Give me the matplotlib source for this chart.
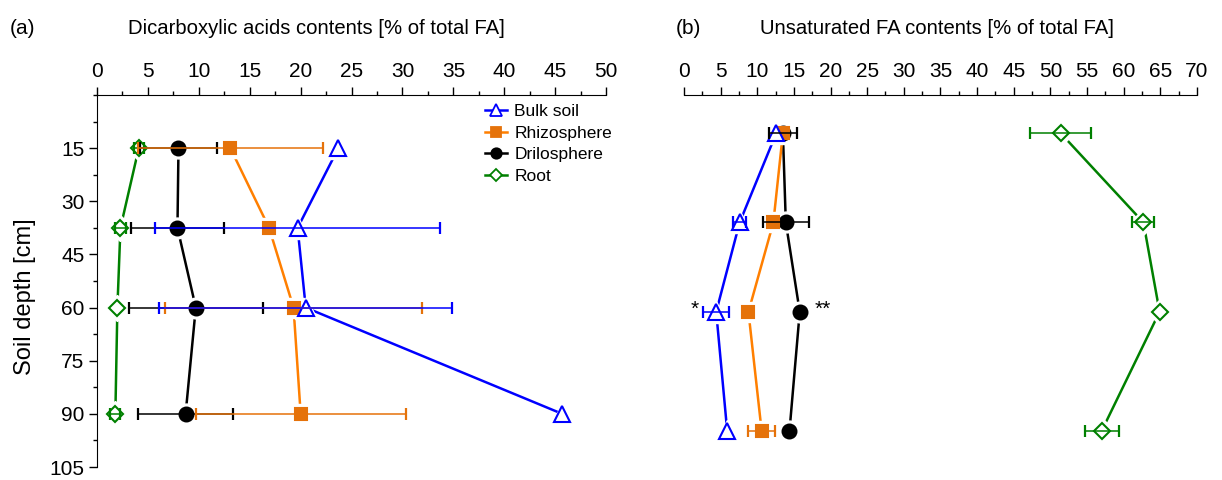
import numpy as np
import matplotlib.pyplot as plt
from matplotlib.lines import Line2D
from matplotlib.ticker import MultipleLocator

plt.rcParams['font.family'] = ['Liberation Sans', 'DejaVu Sans']

depth = [15, 37.5, 60, 90]
names = ['Bulk soil', 'Rhizosphere', 'Drilosphere', 'Root']

# (a) dicarboxylic acids, % of total FA
dca_bulk = [23.7, 19.7, 20.5, 45.7]
dca_bulk_err = [np.nan, 14.0, 14.4, np.nan]
dca_rhizo = [13.1, 16.9, 19.3, 20.0]
dca_rhizo_err = [9.1, np.nan, 12.6, 10.3]
dca_drilo = [8.0, 7.9, 9.7, 8.7]
dca_drilo_err = [3.8, 4.6, 6.6, 4.7]
dca_root = [4.1, 2.3, 2.0, 1.8]
dca_root_err = [0.5, 0.5, np.nan, 0.5]

# (b) unsaturated FA, % of total FA
ufa_bulk = [12.6, 7.6, 4.4, 5.9]
ufa_bulk_err = [np.nan, 0.9, 1.8, np.nan]
ufa_rhizo = [13.5, 12.2, 8.8, 10.6]
ufa_rhizo_err = [np.nan, np.nan, np.nan, 1.8]
ufa_drilo = [13.5, 13.9, 15.8, 14.4]
ufa_drilo_err = [1.9, 3.1, np.nan, np.nan]
ufa_root = [51.4, 62.7, 64.9, 57.0]
ufa_root_err = [4.2, 1.5, np.nan, 2.3]

styles = {
    'Bulk soil':   dict(color='#0000FF', marker='^', mfc='white', mec='#0000FF', ms=11),
    'Rhizosphere': dict(color='#FF7F00', marker='s', mfc='#E5720A', mec='#E5720A', ms=9),
    'Drilosphere': dict(color='black', marker='o', mfc='black', mec='black', ms=10),
    'Root':        dict(color='#008000', marker='D', mfc='white', mec='#008000', ms=8),
}


def draw_series(ax, x, xerr, name):
    st = styles[name]
    ax.plot(x, depth, color=st['color'], lw=1.8, zorder=2, solid_capstyle='butt')
    # white halo so the line stops short of the marker
    ax.plot(x, depth, ls='none', marker=st['marker'], ms=st['ms'] + 5,
            mfc='white', mec='white', zorder=3)
    ax.plot(x, depth, ls='none', marker=st['marker'], ms=st['ms'],
            mfc=st['mfc'], mec=st['mec'], mew=1.5, zorder=4)
    ax.errorbar(x, depth, xerr=xerr, fmt='none', ecolor=st['mec'],
                elinewidth=1.1, capsize=4, capthick=1.6, zorder=5)


def style_axis(ax, xmax, show_y):
    ax.xaxis.tick_top()
    ax.set_xlim(0, xmax)
    ax.xaxis.set_major_locator(MultipleLocator(5))
    ax.xaxis.set_minor_locator(MultipleLocator(2.5))
    ax.tick_params(axis='x', which='major', direction='out', length=6, width=1,
                   labelsize=15, pad=4)
    ax.tick_params(axis='x', which='minor', direction='out', length=3, width=1)
    ax.spines['right'].set_visible(False)
    ax.spines['bottom'].set_visible(False)
    if show_y:
        ax.set_yticks([15, 30, 45, 60, 75, 90, 105])
        ax.yaxis.set_minor_locator(MultipleLocator(7.5))
        ax.tick_params(axis='y', which='major', direction='out', length=6, width=1,
                       labelsize=15, pad=3)
        ax.tick_params(axis='y', which='minor', direction='out', length=3, width=1)
    else:
        ax.spines['left'].set_visible(False)
        ax.set_yticks([])


fig = plt.figure(figsize=(12.22, 4.8), dpi=100)

ax1 = fig.add_axes([0.0794, 0.027, 0.4166, 0.775])
for x, e, n in [(dca_root, dca_root_err, 'Root'),
                (dca_drilo, dca_drilo_err, 'Drilosphere'),
                (dca_rhizo, dca_rhizo_err, 'Rhizosphere'),
                (dca_bulk, dca_bulk_err, 'Bulk soil')]:
    draw_series(ax1, x, e, n)
ax1.set_ylim(105, 0)
style_axis(ax1, 50, True)
ax1.set_ylabel('Soil depth [cm]', fontsize=17)
ax1.yaxis.set_label_coords(-0.12, 0.459)

handles = [Line2D([], [], color=styles[n]['color'], lw=1.8, marker=styles[n]['marker'],
                  ms=styles[n]['ms'] * 0.75, mfc=styles[n]['mfc'], mec=styles[n]['mec'],
                  mew=1.3) for n in names]
ax1.legend(handles, names, loc='upper left', bbox_to_anchor=(0.745, 1.0), frameon=False,
           fontsize=12.5, handlelength=1.25, handletextpad=0.45, labelspacing=0.38,
           borderaxespad=0.1)

ax2 = fig.add_axes([0.5597, 0.027, 0.4198, 0.775])
for x, e, n in [(ufa_root, ufa_root_err, 'Root'),
                (ufa_drilo, ufa_drilo_err, 'Drilosphere'),
                (ufa_rhizo, ufa_rhizo_err, 'Rhizosphere'),
                (ufa_bulk, ufa_bulk_err, 'Bulk soil')]:
    draw_series(ax2, x, e, n)
ax2.set_ylim(99.1, 5.4)
style_axis(ax2, 70, False)
ax2.text(ufa_bulk[2] - ufa_bulk_err[2] - 0.6, depth[2] - 0.5, '*', fontsize=15,
         ha='right', va='center')
ax2.text(ufa_drilo[2] + 2.0, depth[2] - 0.5, '**', fontsize=15, ha='left', va='center')

fig.text(0.008, 0.94, '(a)', fontsize=15, ha='left', va='center')
fig.text(0.259, 0.94, 'Dicarboxylic acids contents [% of total FA]', fontsize=14.6,
         ha='center', va='center')
fig.text(0.553, 0.94, '(b)', fontsize=15, ha='left', va='center')
fig.text(0.7665, 0.94, 'Unsaturated FA contents [% of total FA]', fontsize=14.6,
         ha='center', va='center')

fig.savefig('out.png', dpi=100)
